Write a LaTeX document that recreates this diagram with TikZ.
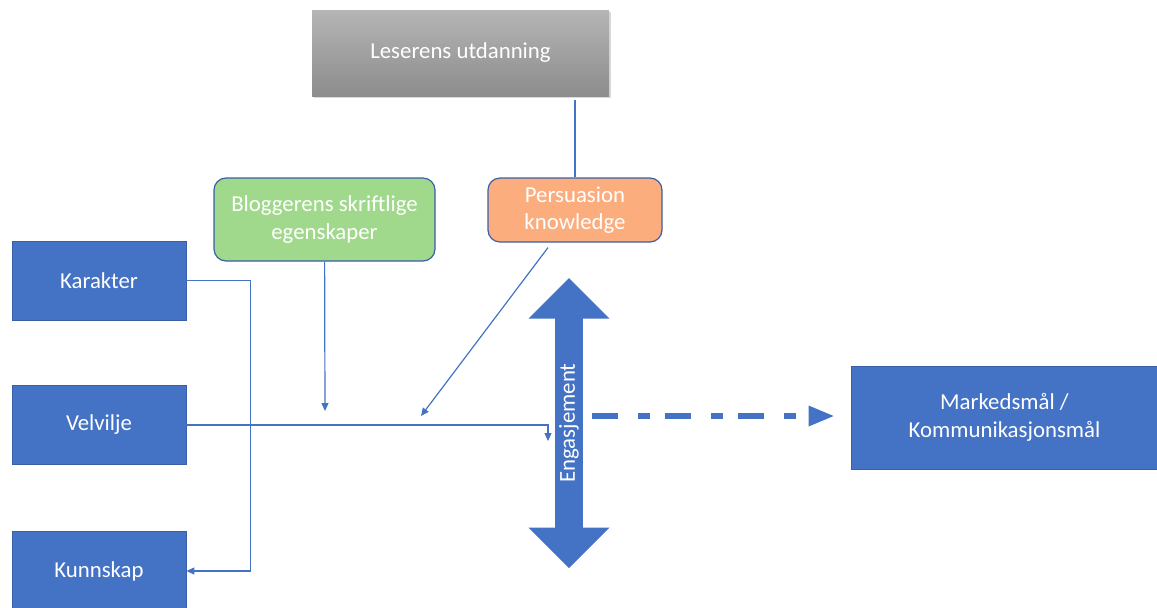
\documentclass[tikz,border=0pt]{standalone}
\usepackage{fontspec}
\setmainfont{Carlito}
\usepackage{tikz}
\usetikzlibrary{positioning,arrows.meta,shapes.arrows,shadows}

\definecolor{boxblue}{HTML}{4472C4}
\definecolor{boxedge}{HTML}{3A5FA6}
\definecolor{greenfill}{HTML}{A0D88C}
\definecolor{orangefill}{HTML}{FBAD7E}

\begin{document}
\begin{tikzpicture}[x=0.5pt, y=-0.5pt, >=Latex,
  every node/.style={font=\fontsize{11.4}{13.8}\selectfont, text=white, align=center},
  bluebox/.style={draw=boxedge, line width=0.4pt, fill=boxblue, minimum width=87pt, minimum height=39.5pt},
  softbox/.style={draw=boxedge, line width=0.6pt, rounded corners=6pt},
  conn/.style={draw=boxblue, line width=0.6pt},
  thintip/.style={-{Triangle[length=4pt, width=3.5pt]}}]
  \useasboundingbox (0,0) rectangle (1157,607);

  \node[top color=gray!58, bottom color=gray!90, minimum width=148.5pt, minimum height=43pt,
        drop shadow={opacity=0.3, shadow xshift=1pt, shadow yshift=-1pt}] (les) at (460.5,53) {Leserens utdanning};
  \node[softbox, fill=greenfill, minimum width=110.5pt, minimum height=41.5pt] (blog) at (324.5,219.5) {Bloggerens skriftlige\\egenskaper};
  \node[softbox, fill=orangefill, minimum width=87pt, minimum height=32pt] (pers) at (575,210) {Persuasion\\knowledge};

  \node[bluebox] (kar) at (99,280.5) {Karakter};
  \node[bluebox] (vel) at (99,425) {Velvilje};
  \node[bluebox] (kun) at (99,571) {Kunnskap};
  \node[bluebox, minimum width=153.5pt, minimum height=51.5pt] (mkt) at (1004.5,417.5) {Markedsmål /\\Kommunikasjonsmål};

  \node[double arrow, fill=boxblue, rotate=90, inner sep=0pt, minimum height=145pt, minimum width=40.5pt,
        double arrow head extend=9.75pt] (eng) at (569,423) {Engasjement};

  \coordinate (bloggtip) at (325,411);
  \coordinate (perstip) at (421,416);
  \coordinate (veltip) at (548,441);
  \coordinate (dashstart) at (592,416);

  \draw[conn] ([yshift=-2pt]les.south -| pers.north) -- (pers.north);
  \draw[conn, thintip] (blog) -- (bloggtip);
  \draw[conn, thintip] ([xshift=-13.5pt, yshift=-2.5pt]pers.south) -- (perstip);
  \draw[conn, thintip] (kar.east) -- ++(64,0) |- (kun.east);
  \draw[conn, thintip] (vel.east) -| (veltip);
  \draw[draw=boxblue, line width=3pt, dash pattern=on 13pt off 10pt on 6pt off 7.5pt,
        -{Triangle[length=13pt, width=9.5pt]}, shorten >=8pt] (dashstart) -- (dashstart -| mkt.west);
\end{tikzpicture}
\end{document}
